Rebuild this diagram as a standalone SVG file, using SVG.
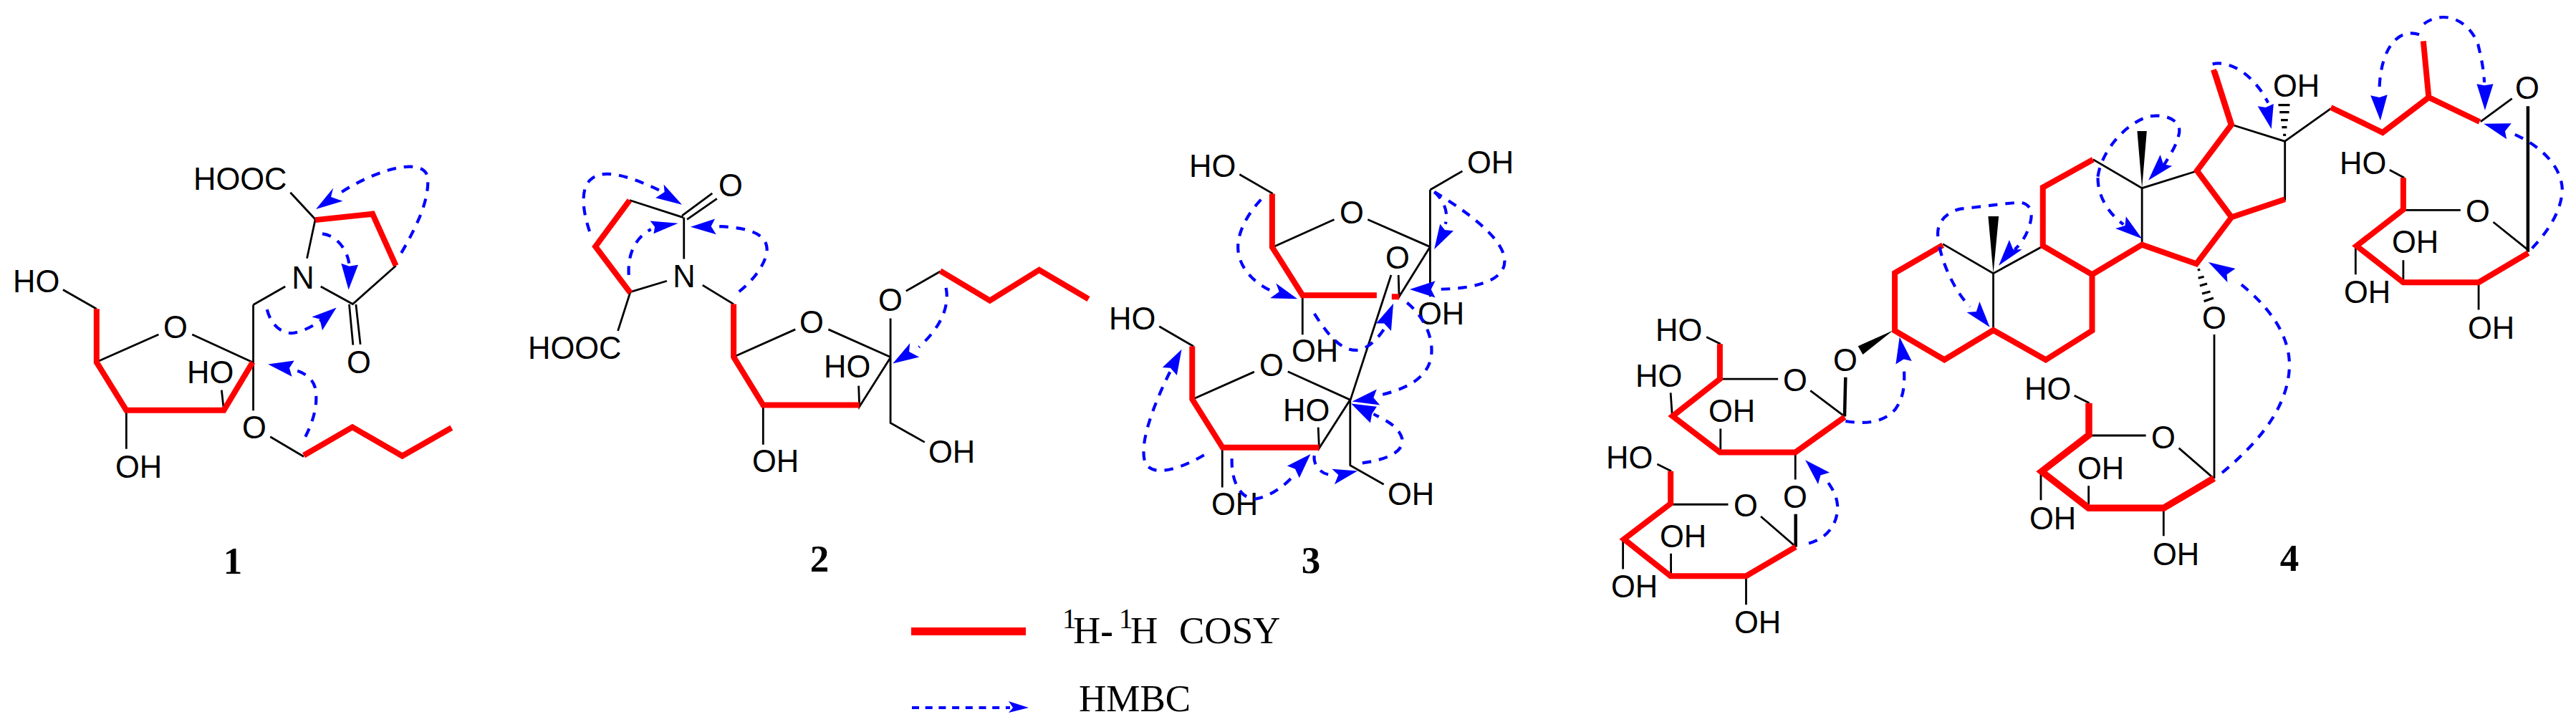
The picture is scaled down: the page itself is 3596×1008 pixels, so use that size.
<svg xmlns="http://www.w3.org/2000/svg" width="3596" height="1008" viewBox="0 0 3596 1008">
<style>
.k,.r,.d,.h{fill:none;vector-effect:non-scaling-stroke}
.k{stroke:#000;stroke-width:2.8}
.k3{stroke-width:4.5}
.h{stroke:#000;stroke-width:3.2}
.r{stroke:#f00;stroke-width:8;stroke-linejoin:miter}
.r9{stroke-width:9.5}
.d{stroke:#00f;stroke-width:4.2;stroke-dasharray:12.5 11}
.a{fill:#00f}
.w{fill:#000}
text{fill:#000;font-family:"Liberation Sans",Arial,sans-serif;font-size:43.5px}
.m{text-anchor:middle}
.n{font-family:"Liberation Serif","Times New Roman",serif;font-weight:bold;font-size:53px;text-anchor:middle}
.l{font-family:"Liberation Serif","Times New Roman",serif;font-size:53px}
.s{font-family:"Liberation Serif","Times New Roman",serif;font-size:39px}
.hy{font-weight:bold}
</style>

<g id="compound-1">
<g transform="translate(0 150) scale(.4464)">
<path class="k" d="M197 570L302 630M300 797L496 710M601 710L790 797M792 617V948M792 617L892 560M1003 560L1103 615L1238 495M960 472L986 350L908 266M1092 616L1104 743M1113 616L1127 741M395 945V1068M693 884L700 948M845 1030L950 1092"/>
<path class="r" d="M302 630V797L395 947H700L790 797M986 352L1165 333L1238 495M950 1088L1102 1000L1258 1090L1412 1002"/>
</g>
<text x="270" y="265">HOOC</text><text x="18" y="408">HO</text><text class="m" x="245" y="472">O</text><text class="m" x="423" y="403">N</text><text class="m" x="501" y="521">O</text><text x="261" y="535">HO</text><text class="m" x="355" y="612">O</text><text x="161" y="667">OH</text><text class="n" x="325" y="801">1</text>
</g>

<g id="compound-2">
<g transform="translate(700 180) scale(.542 .4146)">
<path class="k" d="M330 240L468 298M465 292L543 217M478 305L555 235M470 298V438M426 512L332 549L300 680M518 526L598 590M597 768L757 675M842 675L1002 768M1002 638V990L1090 1055M1002 770L922 935L920 865M674 925V1063M1042 546L1130 480"/>
<path class="r" d="M330 240L242 396L332 552M598 590V768L674 930H922M1130 478L1258 578L1385 475L1512 573"/>
</g>
<text x="737" y="501">HOOC</text><text class="m" x="1020" y="274">O</text><text class="m" x="955" y="401">N</text><text class="m" x="1133" y="465">O</text><text class="m" x="1243" y="434">O</text><text x="1150" y="527">HO</text><text x="1050" y="659">OH</text><text x="1296" y="646">OH</text><text class="n" x="1144" y="798">2</text>
</g>

<g id="compound-3">
<g transform="translate(1500 180) scale(.4464 .4146)">
<path class="k" d="M516 153L620 218M620 398L812 305M917 305L1112 397M1112 205V565M1112 205L1213 142M1112 397L1015 565L1013 492M713 555V693M990 492L862 915M370 910L562 818M667 817L862 912L765 1075L762 1005M462 1072V1207M862 912V1133L967 1197M265 665L372 732"/>
<path class="r" d="M618 218V398L713 560H945M992 565H1015M368 732V910L463 1073H765"/>
</g>
<text x="1660" y="247">HO</text><text class="m" x="1887" y="312">O</text><text x="2048" y="242">OH</text><text class="m" x="1951" y="375">O</text><text x="1979" y="453">OH</text><text x="1803" y="505">OH</text><text x="1548" y="460">HO</text><text class="m" x="1775" y="525">O</text><text x="1791" y="588">HO</text><text x="1691" y="719">OH</text><text x="1937" y="705">OH</text><text class="n" x="1830" y="800">3</text>
</g>

<g id="compound-4">
<g transform="translate(2200 400) scale(.4464 .3876)">
<path class="k" d="M408 182L452 207M450 333H632M733 375L840 468M296 383L301 467M452 512V597M254 640L298 665M295 785H476M578 828L688 938M686 595V695M147 910V1018M297 962V1045M532 1042V1146"/>
<path class="k k3" d="M843 327L840 468M687 820V938"/>
<path class="w" d="M992 158L882 215L897 245Z"/>
<path class="r" d="M450 207V333L302 467L450 597H686L840 470M296 665V782L150 910L296 1043H532L687 938"/>
</g>
<g transform="translate(2500 100) scale(.4464 .3333)">
<path class="k" d="M475 722L633 845L790 730M633 845V1080M945 368L1098 488L1268 417M1098 488V725M1378 222L1545 292V540"/>
<path class="w" d="M617 606H650L633 845ZM1083 249H1113L1098 488Z"/>
<path class="r" d="M475 727L325 843V1085L480 1207L633 1083L797 1207L942 1085V850L788 730V485L945 368M942 850L1098 725L1268 805L1378 610L1270 415L1378 222L1325 0M1378 610L1545 535"/>
</g>
<g transform="translate(2900 0) scale(.4438 .3333)">
<path class="k" d="M652 592L797 455M982 712L1028 745M1025 880H1205M1308 930L1420 1050M875 1030V1150M1025 1090V1185M1262 1183V1298M1268 510L1367 413"/>
<path class="k k3" d="M1417 445V1055"/>
<path class="h" d="M632 440H668M636 470H666M640 503H662M643 533H659M647 565H656M378 1131L386 1129M380 1165L398 1159M385 1197L408 1188M392 1230L418 1221M398 1262L428 1248"/>
<path class="r" d="M428 292L483 520M797 450L960 555L1105 408L1265 510M1105 408L1088 172M1025 745V878L878 1030L1025 1183H1262L1418 1060"/>
</g>
<path class="k" d="M3091 467V668"/>
<g transform="translate(2750 500) scale(.3333)">
<path class="k" d="M437 157L500 188M497 324H737M875 377L1020 503M297 473V595M497 535V628M811 622V745"/>
<path class="r r9" d="M498 188V322L300 475L497 628H811L1022 503"/>
</g>
<text x="2311" y="476">HO</text><text x="2283" y="540">HO</text><text class="m" x="2506" y="546">O</text><text class="m" x="2576" y="518">O</text><text x="2385" y="589">OH</text><text x="2242" y="654">HO</text><text class="m" x="2506" y="709">O</text><text class="m" x="2437" y="721">O</text><text x="2317" y="764">OH</text><text x="2249" y="834">OH</text><text x="2421" y="884">OH</text>
<text x="3173" y="135">OH</text><text class="m" x="3528" y="138">O</text><text x="3266" y="243">HO</text><text class="m" x="3459" y="310">O</text><text x="3339" y="353">OH</text><text x="3272" y="423">OH</text><text x="3445" y="473">OH</text><text class="m" x="3091" y="459">O</text>
<text x="2826" y="558">HO</text><text class="m" x="3020" y="626">O</text><text x="2900" y="669">OH</text><text x="2833" y="739">OH</text><text x="3005" y="789">OH</text>
<text class="n" x="3196" y="797">4</text>
</g>

<g id="connectors">
<g transform="translate(0 150) scale(.4464)">
<path class="d" d="M1255 455C1310 360 1340 290 1338 225C1335 150 1180 190 1060 270M1008 395C1050 400 1085 440 1092 490M835 632C850 690 890 710 920 705C950 700 985 680 1005 665M955 1030C985 970 995 920 985 875C975 840 940 825 915 820"/>
<path class="a" d="M988 318L1042 252L1035 280L1072 293ZM1090 570L1067 488L1092 497L1120 492ZM1052 626L975 655L1000 662L1008 697ZM838 803L920 792L905 815L913 842Z"/>
</g>
<g transform="translate(700 180) scale(.542 .4146)">
<path class="d" d="M227 345C205 260 205 190 235 165C270 130 350 170 415 212M328 492C325 430 340 370 385 338M612 548C650 510 690 440 683 395C675 340 610 330 550 328M1145 535C1155 600 1130 670 1075 735"/>
<path class="a" d="M465 255L418 187L420 212L397 232ZM455 318L383 310L395 330L392 353ZM487 330L550 303L540 328L553 355ZM1008 790L1052 722L1050 750L1076 768Z"/>
</g>
<g transform="translate(1500 180) scale(.4464 .4146)">
<path class="d" d="M583 238C530 300 500 370 515 430C530 490 580 530 625 550M1125 212C1155 240 1170 280 1160 320M1125 212C1200 260 1340 360 1345 440C1350 520 1230 540 1125 540M750 622C790 690 830 745 880 745C920 745 960 690 970 670M1040 585C1090 630 1125 700 1115 770C1100 850 1020 880 950 898M900 1125C970 1115 1030 1090 1025 1045C1015 1000 970 980 935 960M750 1100C745 1130 770 1170 815 1165M492 1110C490 1190 520 1250 570 1245C620 1235 670 1190 690 1160M405 1098C340 1140 240 1180 220 1120C200 1050 260 900 300 815"/>
<path class="a" d="M697 572L630 520L640 548L612 570ZM1125 405L1143 320L1158 340L1185 343ZM1048 540L1128 512L1115 540L1128 568ZM997 588L943 655L968 655L990 680ZM868 918L945 877L935 905L955 930ZM865 925L945 935L930 960L925 990ZM885 1152L805 1145L825 1165L813 1197ZM738 1095L665 1135L690 1145L703 1175ZM335 742L275 803L300 805L320 830Z"/>
</g>
<g transform="translate(2200 400) scale(.4464 .3876)">
<path class="d" d="M843 485C900 495 960 495 1000 440C1030 390 1027 340 1026 290M728 925C780 910 820 860 818 790C815 750 800 725 785 700"/>
<path class="a" d="M1012 182L1000 280L1025 262L1050 268ZM717 625L793 670L765 680L757 712Z"/>
</g>
<g transform="translate(2500 100) scale(.4464 .3333)">
<path class="d" d="M460 690C455 640 480 590 530 575C600 565 680 550 720 548C760 560 755 610 745 650C735 690 720 720 700 745M465 735C480 830 520 930 560 985M960 440C970 340 1040 220 1120 187C1180 175 1225 210 1213 265C1205 310 1190 340 1165 395M960 445C960 520 990 590 1040 640"/>
<path class="a" d="M650 812L683 705L695 745L723 745ZM622 1070L550 1008L580 1005L590 963ZM1118 455L1155 348L1165 388L1192 395ZM1098 700L1048 607L1045 645L1015 657Z"/>
</g>
<g transform="translate(2900 0) scale(.4438 .3333)">
<path class="d" d="M425 268C470 255 530 290 580 385L600 430M1075 145C1010 115 955 200 950 365M1090 100C1150 40 1230 80 1260 185C1270 240 1278 290 1280 345M1430 1040C1480 970 1525 880 1525 790C1520 680 1440 600 1370 560"/>
<path class="a" d="M610 540L567 445L592 450L617 435ZM953 505L922 400L950 408L975 397ZM1282 462L1256 352L1280 358L1308 352ZM1278 518L1365 517L1345 550L1350 583ZM412 1098L497 1125L470 1150L472 1183Z"/>
</g>
<path class="d" d="M3102 660C3150 620 3195 570 3196 510C3196 465 3165 425 3122 392"/>
</g>

<g id="legend">
<rect x="1272" y="876" width="160" height="11" fill="#f00"/>
<text class="s" x="1483" y="877">1</text><text class="l" x="1498" y="898">H<tspan class="hy">-</tspan></text><text class="s" x="1562" y="877">1</text><text class="l" x="1578" y="898">H</text><text class="l" x="1646" y="898">COSY</text>
<path class="d" d="M1273 988H1410" style="stroke-dasharray:10 8.7"/>
<path class="a" d="M1436 988L1408 979L1414 988L1408 995Z"/>
<text class="l" x="1506" y="993">HMBC</text>
</g>
</svg>
